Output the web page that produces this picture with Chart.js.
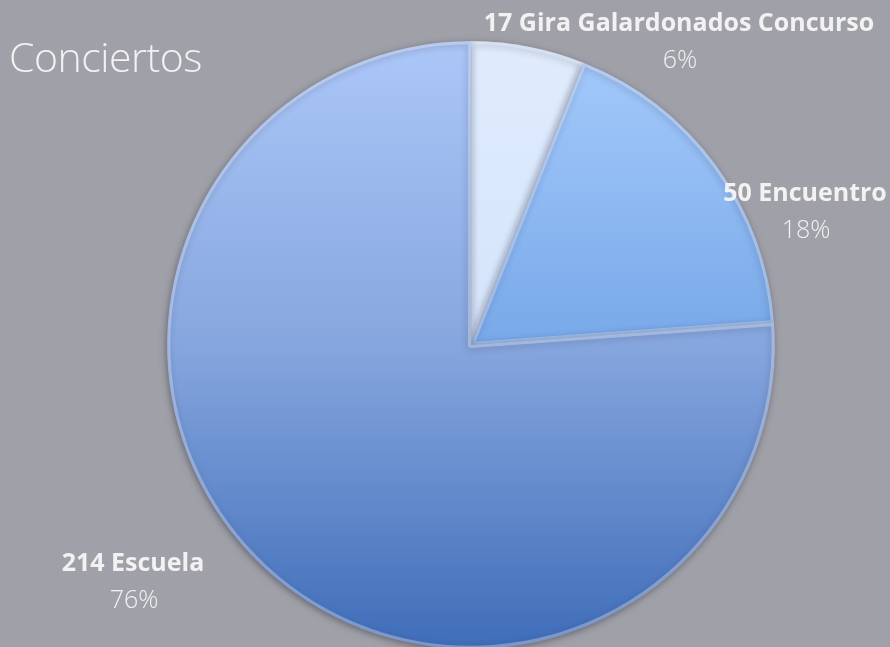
<!DOCTYPE html>
<html>
<head>
<meta charset="utf-8">
<script src="https://cdn.jsdelivr.net/npm/chart.js@4.4.1/dist/chart.umd.min.js"></script>
<style>
  html, body { margin: 0; padding: 0; background: #a0a0a8; overflow: hidden; }
  #wrap { position: relative; width: 890px; height: 660px; }
  #title { position: absolute; left: 9px; top: 36px; font-family: "Open Sans", sans-serif; font-weight: 300; font-size: 41px; line-height: 1; color: #f2f2f2; letter-spacing: -0.5px; }
</style>
</head>
<body>
<div id="wrap">
  <canvas id="pieChart" width="890" height="660"></canvas>
  <div id="title">Conciertos</div>
</div>
<script>
const categories = ["Gira Galardonados Concurso", "Encuentro", "Escuela"];
const counts = [17, 50, 214];
const percentLabels = ["6%", "18%", "76%"];

// gradient stops for each slice (top -> bottom of the pie)
const sliceStops = [
  ["#e0ecfd", "#c8dcf8"],
  ["#a6cbfc", "#4a86d6"],
  ["#acc7f8", "#86a6de", "#3f6db8"]
];

// where Excel put each label (name line)
const labelPos = [
  { x: 679, y: 24 },
  { x: 805, y: 194 },
  { x: 133, y: 564 }
];

function sliceFill(context) {
  const chart = context.chart;
  const area = chart.chartArea;
  if (!area) return sliceStops[context.dataIndex][0];
  const stops = sliceStops[context.dataIndex];
  const g = chart.ctx.createLinearGradient(0, area.top, 0, area.bottom);
  stops.forEach((c, i) => g.addColorStop(i / (stops.length - 1), c));
  return g;
}

const labelPlugin = {
  id: "sliceLabels",
  beforeDatasetsDraw(chart) {
    const ctx = chart.ctx;
    ctx.save();
    ctx.shadowColor = "rgba(40,40,60,0.5)";
    ctx.shadowBlur = 7;
    ctx.shadowOffsetX = -1;
    ctx.shadowOffsetY = 2;
  },
  afterDatasetsDraw(chart) {
    const ctx = chart.ctx;
    ctx.restore();
    ctx.save();
    ctx.textAlign = "center";
    ctx.textBaseline = "middle";
    ctx.fillStyle = "#f2f2f2";
    categories.forEach((name, i) => {
      const p = labelPos[i];
      ctx.font = "bold 25px 'Open Sans', sans-serif";
      ctx.fillText(counts[i] + " " + name, p.x, p.y);
      ctx.font = "300 25px 'Open Sans', sans-serif";
      ctx.fillText(percentLabels[i], p.x + 1, p.y + 37);
    });
    ctx.restore();
  }
};

new Chart(document.getElementById("pieChart"), {
  type: "pie",
  data: {
    labels: categories,
    datasets: [{
      data: counts,
      backgroundColor: sliceFill,
      borderColor: "rgba(235,242,255,0.35)",
      borderWidth: 3,
      borderAlign: "inner"
    }]
  },
  options: {
    responsive: false,
    animation: false,
    layout: { padding: { left: 167, top: 41, right: 115, bottom: 11 } },
    plugins: { legend: { display: false }, tooltip: { enabled: false } }
  },
  plugins: [labelPlugin]
});
</script>
</body>
</html>
